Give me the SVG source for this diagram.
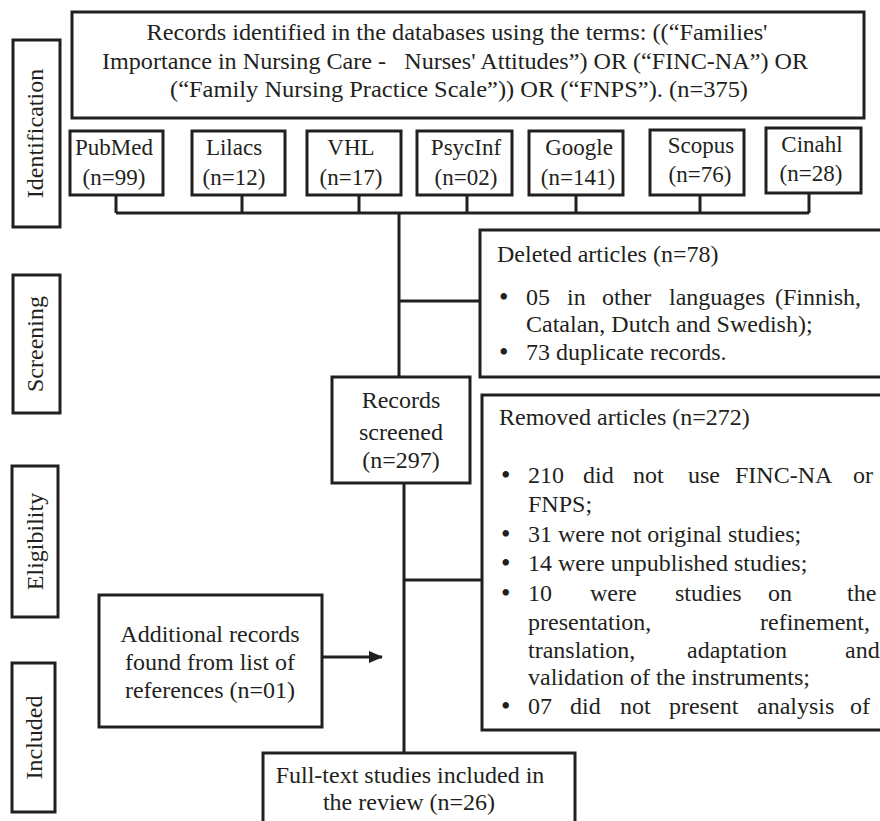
<svg xmlns="http://www.w3.org/2000/svg" width="880" height="821" viewBox="0 0 880 821">
<style>
.box{fill:#fff;stroke:#231f20;stroke-width:3}
.ln{fill:none;stroke:#231f20;stroke-width:3}
text{font-family:"Liberation Serif","Times New Roman",serif;font-size:24px;fill:#231f20}
.c{text-anchor:middle}
.db{font-size:23px}
.b{font-size:27px}
</style>
<defs>
<marker id="ah" markerWidth="14" markerHeight="12" refX="13" refY="6" orient="auto" markerUnits="userSpaceOnUse">
<polygon points="0,0 14,6 0,12" fill="#231f20"/>
</marker>
</defs>
<rect width="880" height="821" fill="#fff"/>

<g id="stage-identification"><rect class="box" x="13" y="40" width="47" height="187"/><text class="c" transform="translate(43,133.5) rotate(-90)">Identification</text></g>
<g id="stage-screening"><rect class="box" x="13" y="275" width="47" height="138"/><text class="c" transform="translate(43,344) rotate(-90)">Screening</text></g>
<g id="stage-eligibility"><rect class="box" x="12" y="466" width="46" height="151"/><text class="c" transform="translate(43,541.5) rotate(-90)">Eligibility</text></g>
<g id="stage-included"><rect class="box" x="12" y="663" width="43" height="149"/><text class="c" transform="translate(42,737.5) rotate(-90)">Included</text></g>

<g id="connectors">
<path class="ln" d="M116,195 V213 M242,195 V213 M359,195 V213 M467,195 V213 M576,195 V213 M700,195 V213 M809,193 V213 M116,213 H809"/>
<path class="ln" d="M399,213 V377 M399,301 H480"/>
<path class="ln" d="M404,483 V753 M404,580 H482"/>
<line class="ln" x1="322" y1="657" x2="382" y2="657" marker-end="url(#ah)"/>
</g>

<g id="records-identified"><rect class="box" x="72" y="12" width="792" height="106"/>
<text class="c" x="457" y="40" textLength="621" lengthAdjust="spacingAndGlyphs">Records identified in the databases using the terms: ((“Families'</text>
<text class="c" x="455" y="69" textLength="706" lengthAdjust="spacingAndGlyphs" xml:space="preserve">Importance in Nursing Care -   Nurses' Attitudes”) OR (“FINC-NA”) OR</text>
<text class="c" x="459" y="97" textLength="578" lengthAdjust="spacingAndGlyphs">(“Family Nursing Practice Scale”)) OR (“FNPS”). (n=375)</text>
</g>

<g id="db-pubmed"><rect class="box" x="70" y="131" width="93" height="64"/><text class="c db" x="114" y="155">PubMed</text><text class="c db" x="114" y="185">(n=99)</text></g>
<g id="db-lilacs"><rect class="box" x="192" y="131" width="93" height="64"/><text class="c db" x="234" y="155">Lilacs</text><text class="c db" x="234" y="185">(n=12)</text></g>
<g id="db-vhl"><rect class="box" x="307" y="131" width="94" height="64"/><text class="c db" x="351" y="155">VHL</text><text class="c db" x="351" y="185">(n=17)</text></g>
<g id="db-psycinf"><rect class="box" x="417" y="131" width="95" height="64"/><text class="c db" x="466" y="155">PsycInf</text><text class="c db" x="466" y="185">(n=02)</text></g>
<g id="db-google"><rect class="box" x="529" y="131" width="94" height="64"/><text class="c db" x="579" y="155">Google</text><text class="c db" x="578" y="185">(n=141)</text></g>
<g id="db-scopus"><rect class="box" x="650" y="130" width="94" height="65"/><text class="c db" x="701" y="153">Scopus</text><text class="c db" x="700" y="182">(n=76)</text></g>
<g id="db-cinahl"><rect class="box" x="766" y="128" width="95" height="65"/><text class="c db" x="812" y="152">Cinahl</text><text class="c db" x="811" y="181">(n=28)</text></g>

<g id="deleted-articles"><rect class="box" x="480" y="230" width="420" height="147"/>
<text x="497" y="262">Deleted articles (n=78)</text>
<text class="b" x="499" y="306">•</text><text y="305"><tspan x="526">05</tspan><tspan x="567">in</tspan><tspan x="602">other</tspan><tspan x="669">languages</tspan><tspan x="775">(Finnish,</tspan></text>
<text x="526" y="332">Catalan, Dutch and Swedish);</text>
<text class="b" x="499" y="361">•</text><text x="526" y="360">73 duplicate records.</text>
</g>

<g id="records-screened"><rect class="box" x="332" y="377" width="138" height="106"/>
<text class="c" x="401" y="408">Records</text><text class="c" x="401" y="440">screened</text><text class="c" x="401" y="468">(n=297)</text></g>

<g id="removed-articles"><rect class="box" x="482" y="395" width="420" height="335"/>
<text x="499" y="425">Removed articles (n=272)</text>
<text class="b" x="501" y="484">•</text><text y="483"><tspan x="528">210</tspan><tspan x="583">did</tspan><tspan x="633">not</tspan><tspan x="688">use</tspan><tspan x="735">FINC-NA</tspan><tspan x="853">or</tspan></text>
<text x="528" y="512">FNPS;</text>
<text class="b" x="501" y="543">•</text><text x="528" y="542">31 were not original studies;</text>
<text class="b" x="501" y="572">•</text><text x="528" y="571">14 were unpublished studies;</text>
<text class="b" x="501" y="602">•</text><text y="601"><tspan x="528">10</tspan><tspan x="590">were</tspan><tspan x="675">studies</tspan><tspan x="768">on</tspan><tspan x="847">the</tspan></text>
<text y="630"><tspan x="528">presentation,</tspan><tspan x="760">refinement,</tspan></text>
<text y="658"><tspan x="528">translation,</tspan><tspan x="687">adaptation</tspan><tspan x="845">and</tspan></text>
<text x="528" y="685">validation of the instruments;</text>
<text class="b" x="501" y="715">•</text><text y="714"><tspan x="528">07</tspan><tspan x="570">did</tspan><tspan x="620">not</tspan><tspan x="669">present</tspan><tspan x="757">analysis</tspan><tspan x="850">of</tspan></text>
</g>

<g id="additional-records"><rect class="box" x="99" y="595" width="223" height="132"/>
<text class="c" x="210" y="642">Additional records</text><text class="c" x="210" y="670">found from list of</text><text class="c" x="210" y="698">references (n=01)</text></g>

<g id="full-text"><rect class="box" x="263" y="753" width="312" height="90"/>
<text class="c" x="410" y="783">Full-text studies included in</text><text class="c" x="409" y="810">the review (n=26)</text></g>
</svg>
